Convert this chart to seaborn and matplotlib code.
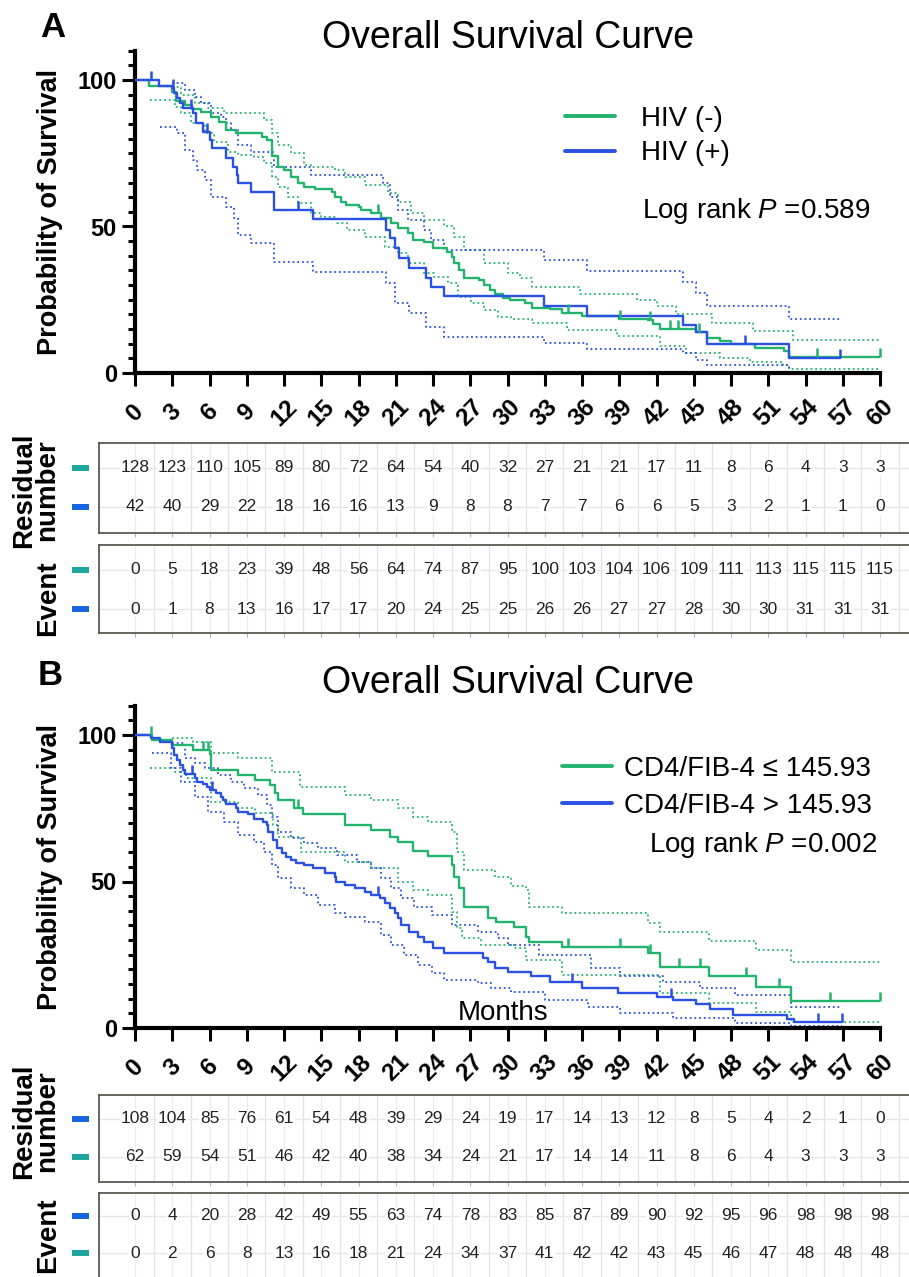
import numpy as np
import pandas as pd
import matplotlib
matplotlib.use('Agg')
import matplotlib.pyplot as plt
import seaborn as sns
from matplotlib import font_manager as fm
from matplotlib.patches import Rectangle
from matplotlib.ticker import MultipleLocator

sns.set_style('ticks')
plt.rcParams['font.family'] = ['Liberation Sans', 'DejaVu Sans']
plt.rcParams['mathtext.fontset'] = 'custom'
plt.rcParams['mathtext.rm'] = 'Liberation Sans'
plt.rcParams['mathtext.it'] = 'Liberation Sans:italic'
plt.rcParams['text.color'] = 'black'
plt.rcParams['axes.labelcolor'] = 'black'
plt.rcParams['xtick.color'] = 'black'
plt.rcParams['ytick.color'] = 'black'

# ---------------- data ----------------
MONTHS = list(range(0, 61, 3))

# Panel A: HIV(-) green, HIV(+) blue  (time in months, survival %)
A_NEG_KM = [(0, 100), (1.15, 98.1), (2.95, 96), (3.3, 93), (4.0, 91.5), (4.6, 90), (5.3, 89), (6.1, 87.5),
            (6.8, 85.8), (7.3, 83), (8.1, 82), (10.2, 80.7), (10.6, 79.5), (11.0, 74), (11.5, 70.4),
            (12.0, 69.3), (12.6, 67), (13.1, 64.7), (13.6, 63.6), (14.5, 62.7), (15.9, 61.9), (16.1, 60.2),
            (16.6, 58.5), (17.0, 57.3), (18.0, 56.8), (18.2, 55.6), (19.0, 54.5), (19.8, 52.8), (20.6, 51.1),
            (21.2, 49.4), (22.0, 47.7), (22.4, 45.4), (23.3, 44.8), (24.0, 42.5), (25.1, 41.4), (25.5, 39.7),
            (25.7, 37.4), (26.1, 35.2), (26.5, 32.3), (27.7, 31.7), (28.1, 30.0), (28.6, 28.3), (29.0, 27.0),
            (29.6, 25.5), (30.2, 24.9), (31.4, 23.8), (32.0, 22.2), (33.4, 21.7), (34.4, 20.6), (36.0, 19.6),
            (39.0, 18.6), (41.3, 18.1), (41.7, 16.6), (42.3, 14.9), (45.2, 14.0), (46.1, 12.0), (47.1, 10.8),
            (48.0, 9.9), (49.9, 8.5), (52.3, 7.5), (52.7, 5.6), (60, 5.6)]
A_NEG_CENS = [19.6, 34.9, 39.1, 41.5, 43.1, 43.7, 45.4, 54.9, 60]
A_NEG_UP = [(3.0, 97.7), (3.7, 94.9), (4.8, 92), (5.9, 90.3), (7.2, 88.6), (10.4, 86.3), (11.0, 81.8),
            (11.5, 77.8), (12.6, 75), (13.6, 71), (14.2, 70.4), (16.1, 69.3), (16.9, 67), (18.5, 64.2),
            (20.4, 61.3), (21.2, 58.5), (22.2, 54.5), (23.3, 52.2), (24.9, 50), (25.7, 46.5), (26.5, 42),
            (28.1, 37.4), (30.0, 34), (31.0, 32.5), (32.0, 29.4), (35.8, 27.1), (40.4, 25), (42.0, 22.8),
            (43.6, 20), (46.5, 17.1), (49.8, 14.3), (53.0, 11.4), (60, 11.4)]
A_NEG_LO = [(1.2, 93.2), (3.2, 90.9), (3.7, 88.6), (4.5, 85.2), (5.6, 81.8), (6.4, 79), (7.5, 75.5),
            (8.3, 74.4), (9.6, 73.8), (10.4, 71.6), (11.0, 67), (11.5, 63.6), (12.3, 60.2), (13.1, 57.9),
            (14.2, 54.5), (15.0, 53.4), (16.3, 51.1), (17.1, 48.8), (18.5, 46.5), (20.1, 43.1), (21.2, 40.8),
            (22.0, 37.4), (23.3, 34), (24.1, 32.9), (25.2, 30.6), (26.0, 26), (27.1, 23.8), (28.1, 21.5),
            (29.2, 19.2), (30.3, 18.4), (32.0, 17.1), (34.8, 14.8), (38.8, 12.5), (42.3, 9.1), (44.4, 6.8),
            (47.1, 5.0), (49.5, 3.6), (52.2, 2.7), (52.7, 1.5), (60, 1.5)]

A_POS_KM = [(0, 100), (1.96, 98), (3.0, 97.2), (3.15, 95.5), (3.4, 93.7), (3.6, 92), (3.85, 90.3),
            (4.65, 88.6), (4.9, 85.2), (5.45, 82.4), (6.0, 79.5), (6.2, 76.7), (7.3, 73.3), (7.9, 70.4),
            (8.2, 67.6), (8.3, 64.7), (9.35, 61.9), (11.2, 55.6), (14.3, 52.6), (20.2, 48.8), (20.5, 46.0),
            (20.9, 42.5), (21.3, 39.1), (22.1, 36.0), (23.45, 32.5), (23.85, 29.5), (24.9, 26.3),
            (32.9, 23.0), (36.4, 19.6), (44.1, 16.4), (45.2, 14.0), (46.1, 9.8), (52.7, 5.0), (56.8, 5.0)]
A_POS_CENS = [1.3, 3.1, 4.5, 5.8, 13.1, 49.1, 56.8]
A_POS_UP = [(3.0, 98.9), (4.0, 96.6), (4.8, 94.3), (5.3, 92), (6.1, 88.6), (6.9, 87.5), (7.3, 85.2),
            (7.7, 82.9), (8.3, 77.8), (9.35, 75.5), (11.2, 70.4), (14.2, 67.6), (20.0, 64.7), (20.5, 60.2),
            (21.2, 55.6), (22.0, 52.2), (23.3, 48.8), (23.85, 45.4), (24.9, 42), (32.9, 38.6), (36.4, 34.9),
            (44.1, 31.2), (45.2, 27.2), (46.1, 23), (52.7, 18.4), (56.8, 18.4)]
A_POS_LO = [(2.0, 84.1), (3.4, 81.8), (4.0, 76.1), (4.65, 72.7), (5.0, 69.3), (5.6, 65.9), (6.1, 60.2),
            (7.3, 56.8), (8.0, 52.8), (8.3, 47.1), (9.35, 44.3), (11.2, 38), (14.3, 34.6), (20.2, 30.6),
            (20.9, 23.8), (22.1, 20.4), (23.45, 15.8), (24.9, 12.4), (32.9, 10.1), (36.4, 8.2), (44.1, 6.7),
            (45.2, 4.4), (46.1, 2.7), (52.7, 0.4), (56.8, 0.4)]

# Panel B: CD4/FIB-4 <= 145.93 green, > 145.93 blue
B_LOW_KM = [(0, 100), (1.4, 98.3), (3.0, 96.6), (4.65, 94.9), (6.0, 93.4), (6.1, 88), (8.3, 86.3),
            (9.7, 84.6), (10.9, 82.9), (11.3, 80.1), (11.5, 77.8), (12.8, 75), (13.5, 72.9), (16.9, 69.3),
            (19.0, 67.6), (20.5, 65.3), (21.2, 63.6), (22.4, 60.4), (23.6, 58.8), (25.5, 55.6), (25.7, 51.6),
            (26.1, 47.7), (26.5, 41.4), (28.4, 37.7), (29.1, 36.3), (30.5, 34.6), (31.5, 31.2), (31.7, 29.2),
            (34.4, 27.7), (41.3, 25.5), (42.3, 20.9), (46.2, 17.7), (50.0, 14.1), (52.8, 9.2), (60, 9.2)]
B_LOW_CENS = [1.3, 5.5, 5.9, 13.1, 34.9, 39.1, 41.5, 43.8, 45.5, 49.2, 51.9, 56.0, 60]
B_LOW_UP = [(3.0, 98.9), (4.65, 97.7), (6.1, 93.7), (8.3, 92), (11.0, 87.5), (13.3, 82.4), (16.9, 79.5),
            (19.0, 77.8), (21.2, 75), (22.4, 72.1), (23.6, 70.2), (25.5, 67), (25.9, 60.2), (26.5, 53.9),
            (29.0, 51.6), (30.3, 48.5), (31.5, 47.1), (31.7, 41.2), (34.4, 39.4), (41.3, 36.0), (42.3, 32.9),
            (46.2, 29.8), (50.0, 26.6), (52.8, 22.6), (60, 22.6)]
B_LOW_LO = [(1.2, 88.9), (3.2, 87.5), (4.1, 85.2), (6.1, 77.2), (8.3, 75), (9.7, 73.3), (11.1, 69.3),
            (11.5, 65.3), (13.4, 60.2), (16.9, 56.8), (19.0, 54.5), (21.2, 49.9), (22.4, 47.1), (23.6, 45.4),
            (25.5, 39.7), (25.9, 34), (26.3, 30.6), (27.9, 28.3), (30.5, 27.2), (31.5, 23.2), (34.4, 18.1),
            (42.3, 11.8), (46.2, 8.4), (50.0, 5.6), (52.8, 2.2), (60, 2.2)]

B_HIGH_KM = [(0, 100), (1.3, 98.9), (2.0, 97.7), (3.0, 95.5), (3.15, 93.2), (3.4, 91.5), (3.65, 89.8),
             (3.85, 88), (4.0, 86.6), (4.8, 85.2), (5.0, 84.1), (5.45, 83.2), (5.8, 82.1), (6.0, 81.2),
             (6.5, 80.1), (6.9, 79), (7.1, 77.8), (7.3, 76.5), (8.1, 75.2), (8.3, 73.8), (9.1, 72.9),
             (9.6, 71.3), (10.3, 70.4), (10.6, 69.3), (10.7, 67), (11.1, 64.2), (11.4, 61.3), (11.8, 59.6),
             (12.2, 58.5), (12.6, 57.3), (13.0, 56.2), (13.6, 55.6), (14.3, 54.5), (15.3, 52.8), (16.1, 51.6),
             (16.2, 49.9), (16.9, 48.8), (17.7, 47.7), (18.5, 46.5), (19.0, 45.4), (19.7, 44.3), (20.1, 42.5),
             (20.5, 40.8), (20.9, 39.1), (21.2, 37.4), (21.4, 35.2), (22.1, 32.9), (22.8, 31.2), (23.3, 29.5),
             (24.0, 27.4), (24.9, 25.7), (28.0, 23.8), (28.4, 22.4), (29.0, 20.4), (30.0, 19.2), (31.9, 17.9),
             (33.4, 15.8), (36.0, 13.5), (38.9, 12.0), (42.0, 10.7), (43.3, 9.6), (45.2, 8.1), (46.3, 6.4),
             (48.2, 4.4), (52.5, 3.1), (53.1, 2.2), (56.9, 2.2)]
B_HIGH_CENS = [4.6, 6.2, 19.6, 35.2, 43.2, 55.0, 56.9]
B_HIGH_UP = [(3.0, 97.2), (4.0, 92.0), (4.8, 90.3), (5.6, 88.6), (6.7, 86.3), (7.7, 84.1), (8.8, 81.8),
             (9.9, 79.5), (10.6, 76.1), (11.0, 72.1), (11.5, 67.0), (12.6, 64.7), (13.6, 63.0), (14.7, 61.3),
             (16.3, 59.0), (17.9, 56.8), (19.0, 54.5), (19.8, 51.1), (20.6, 47.7), (21.4, 44.3), (22.5, 41.4),
             (23.9, 38.6), (25.5, 35.2), (27.6, 32.9), (29.2, 30.6), (30.0, 28.3), (32.5, 24.9), (36.7, 20.4),
             (39.1, 17.9), (42.5, 15.8), (45.5, 13.5), (48.3, 11.3), (52.8, 7.1), (56.9, 7.1)]
B_HIGH_LO = [(1.4, 93.7), (2.9, 88.6), (3.7, 84.1), (4.8, 79), (5.9, 73.8), (7.2, 70.4), (8.3, 65.9),
             (9.6, 63.6), (10.4, 60.2), (11.0, 55.6), (11.5, 51.1), (12.6, 47.7), (13.6, 45.4), (14.7, 42),
             (16.1, 39.1), (16.9, 38), (18.5, 36.3), (19.8, 31.7), (20.6, 28.3), (21.7, 24.9), (22.8, 21.5),
             (23.9, 18.7), (24.9, 16.4), (27.6, 15.2), (28.7, 13.5), (30.3, 12.4), (33.0, 9.6), (36.5, 7.3),
             (39.1, 5.0), (43.3, 3.3), (48.3, 1.8), (52.8, 0.7), (56.9, 0.7)]

# risk tables
A_RES_NEG = [128, 123, 110, 105, 89, 80, 72, 64, 54, 40, 32, 27, 21, 21, 17, 11, 8, 6, 4, 3, 3]
A_RES_POS = [42, 40, 29, 22, 18, 16, 16, 13, 9, 8, 8, 7, 7, 6, 6, 5, 3, 2, 1, 1, 0]
A_EVT_NEG = [0, 5, 18, 23, 39, 48, 56, 64, 74, 87, 95, 100, 103, 104, 106, 109, 111, 113, 115, 115, 115]
A_EVT_POS = [0, 1, 8, 13, 16, 17, 17, 20, 24, 25, 25, 26, 26, 27, 27, 28, 30, 30, 31, 31, 31]
B_RES_HIGH = [108, 104, 85, 76, 61, 54, 48, 39, 29, 24, 19, 17, 14, 13, 12, 8, 5, 4, 2, 1, 0]
B_RES_LOW = [62, 59, 54, 51, 46, 42, 40, 38, 34, 24, 21, 17, 14, 14, 11, 8, 6, 4, 3, 3, 3]
B_EVT_HIGH = [0, 4, 20, 28, 42, 49, 55, 63, 74, 78, 83, 85, 87, 89, 90, 92, 95, 96, 98, 98, 98]
B_EVT_LOW = [0, 2, 6, 8, 13, 16, 18, 21, 24, 34, 37, 41, 42, 42, 43, 45, 46, 47, 48, 48, 48]

# ---------------- style ----------------
W, H = 909, 1277
GREEN = '#22b36c'
BLUE = '#2b50e4'
KEY_TEAL = '#1ea89b'
KEY_BLUE = '#1766e0'
PX_PER_MONTH = 745 / 60.0

fig = plt.figure(figsize=(W / 100, H / 100), dpi=100)


def fbox(l, t, r, b):
    return [l / W, 1 - b / H, (r - l) / W, (b - t) / H]


def fx(px):
    return px / W


def fy(py):
    return 1 - py / H


def draw_step(ax, pairs, color, lw, ls='-', z=3):
    d = pd.DataFrame(pairs, columns=['t', 's'])
    sns.lineplot(data=d, x='t', y='s', ax=ax, color=color, lw=lw, linestyle=ls,
                 drawstyle='steps-post', estimator=None, sort=False, legend=False, zorder=z)
    return ax.lines[-1]


def draw_censor(ax, pairs, times, color):
    t = np.array([p[0] for p in pairs])
    s = np.array([p[1] for p in pairs])
    idx = np.clip(np.searchsorted(t, times, side='right') - 1, 0, len(s) - 1)
    ax.plot(times, s[idx], linestyle='none', marker=[(0, 0), (0, 1)], ms=13, mew=1.8,
            color=color, zorder=4, clip_on=False)


DOT = (0, (1, 1.6))


def setup_main(ax):
    ax.set_xlim(0, 60)
    ax.set_ylim(0, 110)
    sns.despine(ax=ax)
    for sp in ['left', 'bottom']:
        ax.spines[sp].set_linewidth(3)
        ax.spines[sp].set_color('black')
    ax.set_xticks(MONTHS)
    ax.set_xticklabels([str(m) for m in MONTHS])
    ax.set_yticks([0, 50, 100])
    ax.set_yticklabels(['0', '50', '100'])
    ax.yaxis.set_minor_locator(MultipleLocator(5))
    ax.tick_params(axis='y', which='major', length=9.5, width=2.2, pad=3.5, labelsize=17, colors='black')
    ax.tick_params(axis='y', which='minor', length=5, width=2.2, color='black')
    ax.tick_params(axis='x', which='major', length=9.5, width=2.2, pad=19, labelsize=17.5, colors='black')
    for lab in ax.get_xticklabels():
        lab.set_rotation(45)
        lab.set_ha('center')
        lab.set_va('center')
        lab.set_rotation_mode('anchor')
        lab.set_fontweight('bold')
    for lab in ax.get_yticklabels():
        lab.set_fontweight('bold')
    ax.set_xlabel('')
    ax.set_ylabel('Probability of Survival', fontsize=19.5, fontweight='bold', color='black')
    ax.yaxis.set_label_coords(-0.097, 0.5)
    ax.set_facecolor('none')


XL0 = (99 - 135) / PX_PER_MONTH
XL1 = (915 - 135) / PX_PER_MONTH


def draw_table(rect, top_vals, bot_vals, top_color, bot_color, ylim):
    ax = fig.add_axes(rect)
    ax.set_xlim(XL0, XL1)
    ax.set_ylim(*ylim)
    for m, v in zip(MONTHS, top_vals):
        ax.text(m, 1, str(v), ha='center', va='center', fontsize=12.5, color='#222222',
                bbox=dict(fc='white', ec='none', pad=0.6), zorder=3)
    for m, v in zip(MONTHS, bot_vals):
        ax.text(m, 0, str(v), ha='center', va='center', fontsize=12.5, color='#222222',
                bbox=dict(fc='white', ec='none', pad=0.6), zorder=3)
    mids = [m + 1.5 for m in MONTHS]
    ax.set_xticks(MONTHS)
    ax.set_xticks(mids, minor=True)
    ax.set_yticks([0, 1])
    ax.set_axisbelow(True)
    ax.grid(True, which='major', axis='x', color='#ececec', lw=0.9)
    ax.grid(True, which='minor', axis='x', color='#e2e2e2', lw=0.9)
    ax.grid(True, which='major', axis='y', color='#e6e6e6', lw=1.0)
    ax.tick_params(axis='both', which='both', labelbottom=False, labelleft=False)
    ax.tick_params(axis='y', length=0)
    ax.tick_params(axis='x', which='minor', length=0)
    ax.tick_params(axis='x', which='major', length=3, color='#b0b0b0', width=0.8)
    for sp in ax.spines.values():
        sp.set_visible(True)
        sp.set_color('#5a5a52')
        sp.set_linewidth(1.3)
    kx = (72 - 135) / PX_PER_MONTH
    kw = 17 / PX_PER_MONTH
    for yrow, c in [(1, top_color), (0, bot_color)]:
        ax.add_patch(Rectangle((kx, yrow - 0.07), kw, 0.14, facecolor=c, edgecolor='none',
                               clip_on=False, zorder=5))
    return ax


# ---------------- Panel A ----------------
axA = fig.add_axes(fbox(135, 50.7, 880, 373))
draw_step(axA, A_NEG_UP, GREEN, 1.3, DOT, 2)
draw_step(axA, A_NEG_LO, GREEN, 1.3, DOT, 2)
draw_step(axA, A_POS_UP, BLUE, 1.3, DOT, 2)
draw_step(axA, A_POS_LO, BLUE, 1.3, DOT, 2)
gA = draw_step(axA, A_NEG_KM, GREEN, 1.7)
bA = draw_step(axA, A_POS_KM, BLUE, 1.7)
draw_censor(axA, A_NEG_KM, A_NEG_CENS, GREEN)
draw_censor(axA, A_POS_KM, A_POS_CENS, BLUE)
setup_main(axA)
legA = axA.legend([gA, bA], ['HIV (-)', 'HIV (+)'], loc='upper left',
                  bbox_to_anchor=(fx(565), fy(106)), bbox_transform=fig.transFigure,
                  frameon=False, fontsize=20, handlelength=1.8, handletextpad=0.95,
                  labelspacing=0.3, borderpad=0, borderaxespad=0)
for ln in legA.get_lines():
    ln.set_linewidth(2.8)
    ln.set_linestyle('-')
fig.text(fx(642), fy(218), 'Log rank $\\it{P}$ =0.589', fontsize=20, ha='left', va='baseline')
fig.text(fx(508), fy(48), 'Overall Survival Curve', fontsize=27, ha='center', va='baseline')
fig.text(fx(40), fy(37), 'A', fontsize=25, fontweight='bold', ha='left', va='baseline')

draw_table(fbox(99, 443, 915, 533), A_RES_NEG, A_RES_POS, KEY_TEAL, KEY_BLUE, (-0.667, 1.64))
draw_table(fbox(99, 545, 915, 633), A_EVT_NEG, A_EVT_POS, KEY_TEAL, KEY_BLUE, (-0.615, 1.64))
fig.text(fx(36), fy(490), 'Residual\nnumber', rotation=90, fontsize=20, fontweight='bold',
         ha='center', va='center', linespacing=0.85, multialignment='center')
fig.text(fx(48), fy(598), 'Event', rotation=90, fontsize=20, fontweight='bold', ha='center', va='center')

# ---------------- Panel B ----------------
axB = fig.add_axes(fbox(135, 705.7, 880, 1028))
draw_step(axB, B_LOW_UP, GREEN, 1.3, DOT, 2)
draw_step(axB, B_LOW_LO, GREEN, 1.3, DOT, 2)
draw_step(axB, B_HIGH_UP, BLUE, 1.3, DOT, 2)
draw_step(axB, B_HIGH_LO, BLUE, 1.3, DOT, 2)
gB = draw_step(axB, B_LOW_KM, GREEN, 1.7)
bB = draw_step(axB, B_HIGH_KM, BLUE, 1.7)
draw_censor(axB, B_LOW_KM, B_LOW_CENS, GREEN)
draw_censor(axB, B_HIGH_KM, B_HIGH_CENS, BLUE)
setup_main(axB)
legB = axB.legend([gB, bB], ['CD4/FIB-4 \u2264 145.93', 'CD4/FIB-4 > 145.93'], loc='upper left',
                  bbox_to_anchor=(fx(562), fy(756)), bbox_transform=fig.transFigure,
                  frameon=False, fontsize=20, handlelength=1.8, handletextpad=0.45,
                  labelspacing=0.38, borderpad=0, borderaxespad=0)
for ln in legB.get_lines():
    ln.set_linewidth(2.8)
    ln.set_linestyle('-')
fig.text(fx(877), fy(852), 'Log rank $\\it{P}$ =0.002', fontsize=20, ha='right', va='baseline')
fig.text(fx(508), fy(693), 'Overall Survival Curve', fontsize=27, ha='center', va='baseline')
fig.text(fx(38), fy(685), 'B', fontsize=25, fontweight='bold', ha='left', va='baseline')
fig.text(fx(503), fy(1020), 'Months', fontsize=20, ha='center', va='baseline')

draw_table(fbox(99, 1095, 915, 1182), B_RES_HIGH, B_RES_LOW, KEY_BLUE, KEY_TEAL, (-0.66, 1.63))
draw_table(fbox(99, 1193, 915, 1279), B_EVT_HIGH, B_EVT_LOW, KEY_BLUE, KEY_TEAL, (-0.70, 1.62))
fig.text(fx(36), fy(1121), 'Residual\nnumber', rotation=90, fontsize=20, fontweight='bold',
         ha='center', va='center', linespacing=0.85, multialignment='center')
fig.text(fx(48), fy(1235), 'Event', rotation=90, fontsize=20, fontweight='bold', ha='center', va='center')

fig.savefig('out.png', dpi=100)
